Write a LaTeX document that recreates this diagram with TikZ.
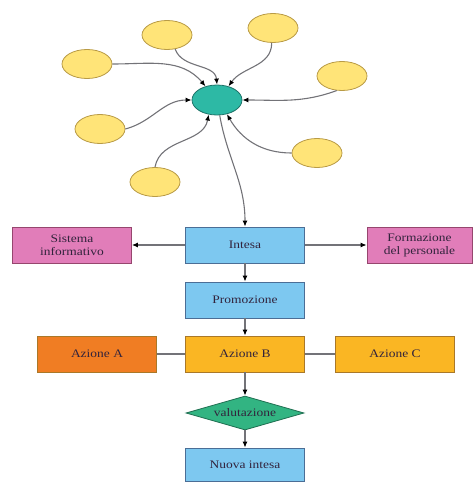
\documentclass[tikz,border=0pt]{standalone}
\usepackage{fontspec}
\setmainfont[FakeStretch=1.17]{Liberation Serif}
\usetikzlibrary{shapes.geometric,arrows.meta}

\definecolor{hubfill}{RGB}{45,185,165}
\definecolor{hubline}{RGB}{30,115,105}
\definecolor{satfill}{RGB}{255,228,120}
\definecolor{satline}{RGB}{185,155,70}
\definecolor{bluefill}{RGB}{125,200,240}
\definecolor{blueline}{RGB}{75,110,150}
\definecolor{pinkfill}{RGB}{225,125,185}
\definecolor{pinkline}{RGB}{150,70,110}
\definecolor{orangefill}{RGB}{240,125,35}
\definecolor{amberfill}{RGB}{250,182,35}
\definecolor{amberline}{RGB}{170,120,40}
\definecolor{diafill}{RGB}{50,180,130}
\definecolor{dialine}{RGB}{30,110,80}
\definecolor{inktext}{RGB}{50,35,60}
\definecolor{wire}{RGB}{115,115,120}

\begin{document}
\begin{tikzpicture}[x=1pt,y=-1pt,
    hub/.style={ellipse,draw=hubline,fill=hubfill,line width=0.8pt,minimum width=50pt,minimum height=30pt,inner sep=0pt},
    sat/.style={ellipse,draw=satline,fill=satfill,line width=0.8pt,minimum width=50pt,minimum height=29pt,inner sep=0pt},
    box/.style={rectangle,draw=#1line,fill=#1fill,line width=0.8pt,minimum width=119pt,minimum height=36pt,
        inner sep=1pt,align=center,text=inktext,font=\fontsize{11.5}{13}\selectfont},
    dia/.style={diamond,draw=dialine,fill=diafill,line width=0.8pt,aspect=3.5,minimum width=118pt,minimum height=34pt,
        inner sep=0pt,text=inktext,font=\fontsize{11.5}{13}\selectfont},
    link/.style={draw=wire,line width=1.1pt,-{Latex[black,length=6pt,width=5pt]}},
    plain/.style={draw=wire,line width=1.1pt}]
    \useasboundingbox (0,0) rectangle (475,482);
    % la stella in alto
    \node[hub] (hub) at (217,100) {};
    \node[sat] (s1) at (167,35) {};
    \node[sat] (s2) at (273,28) {};
    \node[sat] (s3) at (87,64) {};
    \node[sat] (s4) at (342,76) {};
    \node[sat] (s5) at (100,129) {};
    \node[sat] (s6) at (317,153) {};
    \node[sat] (s7) at (155,182) {};
    \draw[link] (s1.-60) to[out=-70,in=95] (hub.north);
    \draw[link] (s2.-95) to[out=-90,in=55] (hub.50);
    \draw[link] (s3.east) to[out=0,in=130] (hub.130);
    \draw[link] (s4.-110) to[out=200,in=0] (hub.east);
    \draw[link] (s5.east) to[out=15,in=180] (hub.west);
    \draw[link] (s6.west) to[out=180,in=-60] (hub.-55);
    \draw[link] (s7.north) to[out=80,in=-100] (hub.-120);
    % il percorso
    \node[box=blue] (intesa) at (245,245) {Intesa};
    \node[box=pink] (sistema) at (72,245) {Sistema\\informativo};
    \node[box=pink,minimum width=105pt] (formazione) at (419.5,245) {Formazione\\del personale};
    \node[box=blue] (promozione) at (245,300) {Promozione};
    \node[box=amber] (azioneb) at (245,354) {Azione B};
    \node[box=amber,fill=orangefill] (azionea) at (97,354) {Azione A};
    \node[box=amber] (azionec) at (395,354) {Azione C};
    \node[dia] (valutazione) at (245,413) {valutazione};
    \node[box=blue,minimum height=33pt] (nuova) at (245,464.5) {Nuova intesa};
    \draw[link] (hub.-80) to[out=-80,in=90] (intesa.north);
    \draw[link] (intesa) -- (sistema);
    \draw[link] (intesa) -- (formazione);
    \draw[link] (intesa) -- (promozione);
    \draw[link] (promozione) -- (azioneb);
    \draw[plain] (azionea) -- (azioneb) -- (azionec);
    \draw[link] (azioneb) -- (valutazione);
    \draw[link] (valutazione) -- (nuova);
\end{tikzpicture}
\end{document}
